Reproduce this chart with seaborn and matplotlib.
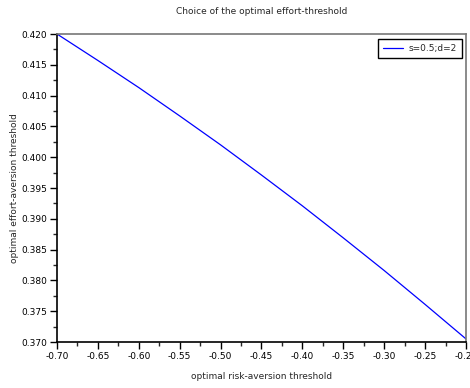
import numpy as np
import pandas as pd
import matplotlib
matplotlib.use("Agg")
import matplotlib.pyplot as plt
import seaborn as sns
from matplotlib.ticker import MultipleLocator, FormatStrFormatter

risk_threshold = [-0.70, -0.65, -0.60, -0.55, -0.50, -0.45, -0.40, -0.35, -0.30, -0.25, -0.20]
effort_threshold = [0.4200, 0.4157, 0.4113, 0.4067, 0.4020, 0.3971, 0.3921, 0.3869, 0.3816, 0.3761, 0.3705]
series_label = "s=0.5;d=2"

df = pd.DataFrame({"x": risk_threshold, "y": effort_threshold, "series": series_label})

sns.set_style("ticks")
plt.rcParams["font.family"] = ["DejaVu Sans"]

fig = plt.figure(figsize=(4.70, 3.88), dpi=100)
ax = fig.add_axes([57/470, 46/388, 409/470, 308/388])

sns.lineplot(data=df, x="x", y="y", hue="series", palette=["#0000ff"], linewidth=0.9, ax=ax)

ax.set_xlim(-0.70, -0.20)
ax.set_ylim(0.370, 0.420)
ax.xaxis.set_major_locator(MultipleLocator(0.05))
ax.xaxis.set_minor_locator(MultipleLocator(0.025))
ax.yaxis.set_major_locator(MultipleLocator(0.005))
ax.yaxis.set_minor_locator(MultipleLocator(0.0025))
ax.xaxis.set_major_formatter(FormatStrFormatter("%.2f"))
ax.yaxis.set_major_formatter(FormatStrFormatter("%.3f"))
ax.tick_params(which="major", length=5, width=1.0, labelsize=6.5, colors="black", direction="out", pad=2)
ax.tick_params(which="minor", length=3, width=1.0, direction="out")

for s in ["left", "bottom"]:
    ax.spines[s].set_color("black")
    ax.spines[s].set_linewidth(1.2)
for s in ["top", "right"]:
    ax.spines[s].set_color("#777777")
    ax.spines[s].set_linewidth(1.2)

ax.set_xlabel("optimal risk-aversion threshold", fontsize=6.5, labelpad=8)
ax.set_ylabel("optimal effort-aversion threshold", fontsize=6.5, labelpad=2)
fig.text((57 + 466) / 2 / 470, 1 - 11 / 388, "Choice of the optimal effort-threshold",
         ha="center", va="center", fontsize=6.5)

leg = ax.legend(loc="upper right", fontsize=6.5, frameon=True, fancybox=False,
                edgecolor="black", framealpha=1, handlelength=2.3, handletextpad=0.6,
                borderpad=0.55, borderaxespad=0, bbox_to_anchor=(0.990, 0.984))
leg.get_frame().set_linewidth(1.0)

fig.savefig("out.png", dpi=100)
